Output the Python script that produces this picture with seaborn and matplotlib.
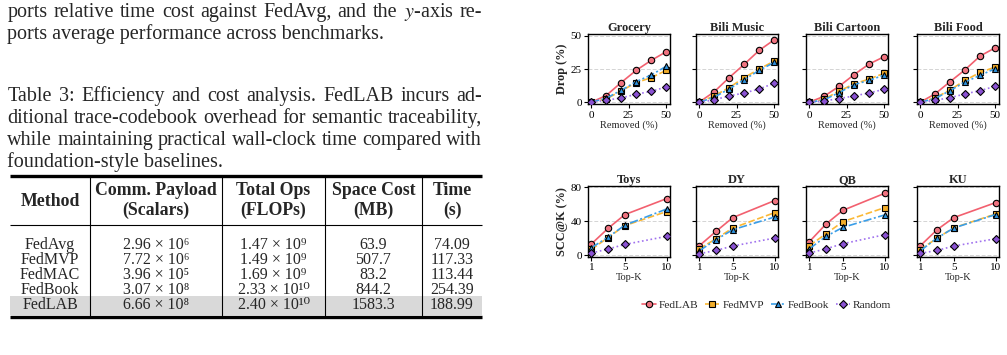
import matplotlib
matplotlib.use("Agg")
import matplotlib.pyplot as plt
from matplotlib.lines import Line2D
from matplotlib.patches import Rectangle
import seaborn as sns
import numpy as np

# ---------------- data ----------------
removed = [0, 10, 20, 30, 40, 50]
topk = [1, 3, 5, 10]
methods = ["FedLAB", "FedMVP", "FedBook", "Random"]

drop_titles = ["Grocery", "Bili Music", "Bili Cartoon", "Bili Food"]
drop_fedlab = [[0, 5, 14.8, 24, 31.5, 38], [0, 7.8, 18.5, 28.5, 39, 47],
               [0, 4.5, 12, 20.8, 28.8, 34.3], [0, 6.3, 15.5, 24.5, 34.8, 41]]
drop_fedmvp = [[0, 2.5, 8.5, 14.8, 18.5, 24], [0, 4.8, 11, 18.5, 25, 31],
               [0, 2.3, 8.5, 13.8, 17.5, 21.8], [0, 3.3, 9.3, 16.5, 22.5, 26.5]]
drop_fedbook = [[0, 3, 9, 15.5, 20.5, 27], [0, 3.8, 10, 17, 24, 30],
                [0, 1.8, 7.3, 13.3, 16.5, 20.5], [0, 2.8, 8.8, 15.3, 20.3, 25.3]]
drop_random = [[0, 1.5, 3.3, 6, 8.3, 11.5], [0, 1.8, 4.8, 7, 10, 14.3],
               [0, 1, 2.8, 4.8, 7, 9.8], [0, 1.5, 3.5, 6.3, 8.8, 12]]

scc_titles = ["Toys", "DY", "QB", "KU"]
scc_fedlab = [[13.4, 31.8, 47.9, 66.7], [11.4, 28.3, 44.4, 64.4],
              [16.1, 36.9, 52.9, 72.9], [11.4, 30.2, 44.4, 62]]
scc_fedmvp = [[7, 21, 35, 51.5], [7.8, 19.6, 32.2, 50.2],
              [11.4, 25.5, 39.6, 56.1], [6.7, 20.4, 32.5, 48.6]]
scc_fedbook = [[9, 21.5, 35.5, 54.5], [5.5, 18.5, 30.2, 45.1],
               [7.8, 22.4, 32.9, 47.5], [5.5, 20.4, 32.2, 48]]
scc_random = [[2.8, 7.5, 12.9, 22.4], [2, 5.9, 11, 20.4],
              [2.8, 7.8, 13.7, 24.3], [2.4, 5.9, 11, 19.6]]

table_methods = ["FedAvg", "FedMVP", "FedMAC", "FedBook", "FedLAB"]
table_comm = ["2.96 × 10⁶", "7.72 × 10⁶", "3.96 × 10⁵", "3.07 × 10⁸", "6.66 × 10⁸"]
table_ops = ["1.47 × 10⁹", "1.49 × 10⁹", "1.69 × 10⁹", "2.33 × 10¹⁰", "2.40 × 10¹⁰"]
table_space = ["63.9", "507.7", "83.2", "844.2", "1583.3"]
table_time = ["74.09", "117.33", "113.44", "254.39", "188.99"]
table_headers = [("Method", None), ("Comm. Payload", "(Scalars)"), ("Total Ops", "(FLOPs)"),
                 ("Space Cost", "(MB)"), ("Time", "(s)")]

# ---------------- style ----------------
sns.set_theme(style="ticks")
plt.rcParams["font.family"] = ["Liberation Serif", "DejaVu Serif"]
plt.rcParams["mathtext.fontset"] = "stix"

W, H = 1007, 355
fig = plt.figure(figsize=(W / 100, H / 100), dpi=100)
fig.patch.set_facecolor("white")


def fx(x):
    return x / W


def fy(y):
    return 1 - y / H


renderer = fig.canvas.get_renderer()


def text_line(s, x0, y, x1=None, size=14.5, **kw):
    words = s.split(" ")
    if x1 is None:
        fig.text(fx(x0), fy(y), s, fontsize=size, va="baseline", ha="left", **kw)
        return
    texts = [fig.text(0, fy(y), w, fontsize=size, va="baseline", ha="left", **kw) for w in words]
    widths = [t.get_window_extent(renderer).width for t in texts]
    gap = ((x1 - x0) - sum(widths)) / (len(words) - 1)
    x = x0
    for t, w in zip(texts, widths):
        t.set_x(fx(x))
        x += w + gap


# ---------------- left text ----------------
text_line("ports relative time cost against FedAvg, and the $y$-axis re-", 7.3, 17.3, 482)
text_line("ports average performance across benchmarks.", 7.3, 39.3)
text_line("Table 3: Efficiency and cost analysis. FedLAB incurs ad-", 7.3, 100.7, 482)
text_line("ditional trace-codebook overhead for semantic traceability,", 7.3, 122.8, 482)
text_line("while maintaining practical wall-clock time compared with", 7.3, 144.8, 482)
text_line("foundation-style baselines.", 7.3, 166.7)

# ---------------- table ----------------
tl, tr = 10, 482
fig.add_artist(Rectangle((fx(tl), fy(314.5)), fx(tr) - fx(tl), (314.5 - 296) / H,
                         transform=fig.transFigure, facecolor="#d9d9d9", edgecolor="none", zorder=0))
for yy, lw in [(175.7, 2.4), (224.5, 0.8), (316.8, 2.4)]:
    fig.add_artist(Line2D([fx(tl), fx(tr)], [fy(yy), fy(yy)], transform=fig.transFigure,
                          color="black", lw=lw, solid_capstyle="butt"))
for xx in [90, 221.7, 325, 421.7]:
    fig.add_artist(Line2D([fx(xx), fx(xx)], [fy(177), fy(315.5)], transform=fig.transFigure,
                          color="black", lw=0.8))
col_cx = [50, 156, 273.5, 373.5, 452]
for cx, (h1, h2) in zip(col_cx, table_headers):
    if h2 is None:
        fig.text(fx(cx), fy(206), h1, ha="center", va="baseline", fontsize=12.8, fontweight="bold")
    else:
        fig.text(fx(cx), fy(194.5), h1, ha="center", va="baseline", fontsize=12.8, fontweight="bold")
        fig.text(fx(cx), fy(214.5), h2, ha="center", va="baseline", fontsize=12.8, fontweight="bold")
row_base = [249.3, 264.3, 279.3, 294.3, 309.3]
for i, yb in enumerate(row_base):
    vals = [table_methods[i], table_comm[i], table_ops[i], table_space[i], table_time[i]]
    for cx, v in zip(col_cx, vals):
        fig.text(fx(cx), fy(yb), v, ha="center", va="baseline", fontsize=11.5)

# ---------------- charts ----------------
styles = {
    "FedLAB": dict(color="#f2606f", mfc="#f07380", marker="o", ls="-", ms=4.6),
    "FedMVP": dict(color="#fbb936", mfc="#f2ad2a", marker="s", ls=(0, (4, 1.6)), ms=4.4),
    "FedBook": dict(color="#3a9ee8", mfc="#2f92dc", marker="^", ls=(0, (5, 1.5, 1.2, 1.5)), ms=4.8),
    "Random": dict(color="#a072ee", mfc="#8a52d2", marker="D", ls=(0, (1, 1.6)), ms=4.0),
}

lefts = [588, 696, 806, 917]
axw = 82
rows = [
    dict(top=34, bot=104.3, x=removed, titles=drop_titles,
         data=[drop_fedlab, drop_fedmvp, drop_fedbook, drop_random],
         xlim=(-2, 52.6), ylim=(-1.5, 51.4), xticks=[0, 25, 50], yticks=[0, 25, 50],
         xlabel="Removed (%)", ylabel="Drop (%)"),
    dict(top=186, bot=256.7, x=topk, titles=scc_titles,
         data=[scc_fedlab, scc_fedmvp, scc_fedbook, scc_random],
         xlim=(0.6, 10.4), ylim=(-1.5, 81.5), xticks=[1, 5, 10], yticks=[0, 40, 80],
         xlabel="Top-K", ylabel="SCC@K (%)"),
]

for row in rows:
    for j, left in enumerate(lefts):
        ax = fig.add_axes([fx(left), fy(row["bot"]), axw / W, (row["bot"] - row["top"]) / H])
        ax.set_facecolor("white")
        for yt in row["yticks"]:
            ax.axhline(yt, color="#d4d4d4", lw=0.7, ls=(0, (4, 2)), zorder=0)
        for m, series in zip(methods, row["data"]):
            st = styles[m]
            sns.lineplot(x=row["x"], y=series[j], ax=ax, color=st["color"], linestyle=st["ls"],
                         lw=1.2, marker=st["marker"], markersize=st["ms"],
                         markerfacecolor=st["mfc"], markeredgecolor="black",
                         markeredgewidth=0.8, zorder=3)
        ax.set_xlim(*row["xlim"])
        ax.set_ylim(*row["ylim"])
        ax.set_xticks(row["xticks"])
        ax.set_yticks(row["yticks"])
        ax.tick_params(axis="both", length=3, width=0.8, pad=1.5, labelsize=8.0, colors="black")
        if j != 0:
            ax.set_yticklabels([])
            ax.set_ylabel("")
        else:
            ax.set_ylabel(row["ylabel"], fontsize=8.8, fontweight="bold", labelpad=2)
        ax.set_xlabel(row["xlabel"], fontsize=7.5, labelpad=0.5)
        ax.set_title(row["titles"][j], fontsize=8.9, fontweight="bold", pad=2)
        for sp in ax.spines.values():
            sp.set_visible(True)
            sp.set_color("black")
            sp.set_linewidth(1.0)

handles = []
for m in methods:
    st = styles[m]
    handles.append(Line2D([], [], color=st["color"], ls=st["ls"], lw=1.2, marker=st["marker"],
                          markersize=st["ms"], markerfacecolor=st["mfc"],
                          markeredgecolor="black", markeredgewidth=0.8))
fig.legend(handles, methods, loc="center", bbox_to_anchor=(fx(766.5), fy(305)), ncol=4,
           frameon=False, fontsize=8.2, handlelength=1.25, handletextpad=0.25,
           columnspacing=0.6, borderaxespad=0)

fig.savefig("out.png", dpi=100, facecolor="white")
